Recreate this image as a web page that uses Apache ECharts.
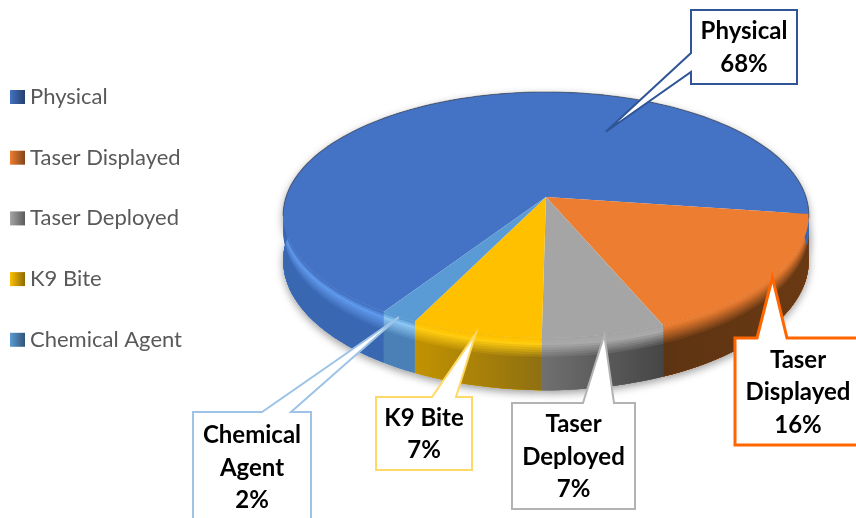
<!DOCTYPE html>
<html>
<head>
<meta charset="utf-8">
<style>
html, body { margin: 0; padding: 0; background: #fff; }
#chart { width: 856px; height: 518px; }
</style>
<script src="https://cdn.jsdelivr.net/npm/echarts@6/dist/echarts.min.js"></script>
</head>
<body>
<div id="chart"></div>
<script>
const categories = ['Physical', 'Taser Displayed', 'Taser Deployed', 'K9 Bite', 'Chemical Agent']
// printed labels are rounded, the slice widths read slightly finer
const shares = [68, 16.4, 6.6, 7, 2]

// pie geometry, the perspective of a tilted disc
const centerX = 546
const centerY = 197
const radiusX = 260
const radiusY = 120.4
const perspective = 0.1464
const depth = 44.5
const firstAngle = 123.2

const sliceColors = [
    { top: '#4472c4', rim: '#5f99ec', left: '#3a67b2', right: '#3a67b2' },
    { top: '#ed7d31', rim: '#cf6e2a', left: '#5d3412', right: '#6a3913' },
    { top: '#a5a5a5', rim: '#a9a9a9', left: '#707070', right: '#464646' },
    { top: '#ffc000', rim: '#ffcc10', left: '#c29200', right: '#8f7012' },
    { top: '#5b9bd5', rim: '#8cc6f2', left: '#4a80b6', right: '#4a80b6' }
]

const callouts = [
    { box: [691, 10, 106, 74], side: 'left', base: [53, 72], color: '#2f5597', width: 2, tipAngle: 293, tipRadius: 0.64 },
    { box: [735, 338, 126, 107], side: 'top', base: [757, 787], color: '#ff6600', width: 3, wrap: true },
    { box: [512, 403, 123, 106], side: 'top', base: [583, 614], color: '#b3b3b3', width: 2, wrap: true },
    { box: [376, 397, 96, 73], side: 'top', base: [432, 456], color: '#ffd966', width: 2 },
    { box: [193, 412, 118, 110], side: 'top', base: [262, 291], color: '#9dc3e6', width: 2, wrap: true }
]

const total = shares.reduce((a, b) => a + b, 0)

const project = (angle, ratio, drop) => {
    const rad = angle * Math.PI / 180
    const u = Math.cos(rad) * ratio
    const v = Math.sin(rad) * ratio
    const w = 1 - perspective * v
    return [centerX + radiusX * u / w, centerY + (radiusY * v + drop) / w]
}

const arcPoints = (from, to, drop) => {
    const points = []
    const steps = Math.max(2, Math.ceil((to - from) / 2))
    for (let i = 0; i <= steps; i++) {
        points.push(project(from + (to - from) * i / steps, 1, drop))
    }
    return points
}

const mixColor = (a, b, t) => {
    const ca = [1, 3, 5].map(i => parseInt(a.substr(i, 2), 16))
    const cb = [1, 3, 5].map(i => parseInt(b.substr(i, 2), 16))
    const c = ca.map((v, i) => Math.round(v + (cb[i] - v) * t))
    return `rgb(${c[0]},${c[1]},${c[2]})`
}

const horizontal = (left, right) => ({
    type: 'linear', x: 0, y: 0, x2: 1, y2: 0,
    colorStops: [{ offset: 0, color: left }, { offset: 1, color: right }]
})

const calloutShape = (item) => {
    const [x, y, w, h] = item.box
    if (item.side === 'left') {
        return [[x, y], [x + w, y], [x + w, y + h], [x, y + h], [x, item.base[1]], item.tip, [x, item.base[0]]]
    }
    return [[x, y], [item.base[0], y], item.tip, [item.base[1], y], [x + w, y], [x + w, y + h], [x, y + h]]
}

let running = firstAngle
const sliceAngles = shares.map(share => {
    const from = running
    running += share / total * 360
    return [from, running]
})

const drawSlice = (index, value) => {
    const [from, to] = sliceAngles[index]
    const colors = sliceColors[index]
    const children = []

    const wall = (startDrop, fill, z2, extra) => {
        const upper = arcPoints(from, to, startDrop)
        const lower = arcPoints(from, to, depth).reverse()
        children.push({
            type: 'polygon',
            z2: z2,
            shape: { points: upper.concat(lower) },
            style: Object.assign({ fill: fill }, extra || {})
        })
    }

    // soft shadow under the wall
    wall(0, colors.left, 1, { shadowBlur: 9, shadowColor: 'rgba(0,0,0,0.4)', shadowOffsetY: 3 })

    // the bevel fades from the rim colour into the wall colour
    const bands = [0, 2, 4, 6, 8, 10, 12, 14, 16]
    bands.forEach((drop, i) => {
        let fill
        if (drop <= 4) {
            fill = horizontal(mixColor(colors.top, colors.rim, drop / 4), mixColor(colors.top, colors.rim, drop / 4))
        } else {
            const t = (drop - 4) / 12
            fill = horizontal(mixColor(colors.rim, colors.left, t), mixColor(colors.rim, colors.right, t))
        }
        wall(drop, fill, 2 + i)
    })

    const center = project(0, 0, 0)
    const face = [center].concat(arcPoints(from, to, 0))
    children.push({
        type: 'polygon',
        z2: 20,
        shape: { points: face },
        style: { fill: colors.top }
    })

    // darker edge on the far side of the disc
    const backEdge = arcPoints(from, to, 0).filter(p => p[1] < centerY + 22)
    if (backEdge.length > 1) {
        children.push({
            type: 'polyline',
            z2: 21,
            shape: { points: backEdge },
            style: { fill: null, stroke: 'rgba(70,70,70,0.55)', lineWidth: 1.2 }
        })
    }

    const item = callouts[index]
    const mid = (from + to) / 2
    const tip = project(item.tipAngle === undefined ? mid : item.tipAngle, item.tipRadius || 1, 0)
    const [bx, by, bw, bh] = item.box
    children.push({
        type: 'polygon',
        z2: 30,
        shape: { points: calloutShape(Object.assign({ tip: tip }, item)) },
        style: { fill: '#fff', stroke: item.color, lineWidth: item.width, lineJoin: 'miter' }
    })
    const name = categories[index]
    children.push({
        type: 'text',
        z2: 31,
        x: bx + bw / 2,
        y: by + bh / 2 + 1,
        style: {
            text: (item.wrap ? name.replace(' ', '\n') : name) + '\n' + Math.round(value) + '%',
            fill: '#000',
            font: 'bold 24px Lato',
            lineHeight: 32.5,
            align: 'center',
            verticalAlign: 'middle'
        }
    })

    return { type: 'group', children: children }
}

const chart = echarts.init(document.getElementById('chart'))

chart.setOption({
    animation: false,
    legend: {
        orient: 'vertical',
        left: 10,
        top: 86,
        padding: 0,
        itemWidth: 15,
        itemHeight: 14,
        itemGap: 38.7,
        selectedMode: false,
        textStyle: { fontFamily: 'Lato', fontSize: 22, color: '#595959' },
        data: categories.map((name, i) => ({
            name: name,
            icon: 'rect',
            itemStyle: { color: horizontal(sliceColors[i].top, mixColor(sliceColors[i].top, '#000000', 0.45)) }
        }))
    },
    series: categories.map((name, i) => ({
        type: 'custom',
        name: name,
        coordinateSystem: 'none',
        itemStyle: { color: sliceColors[i].top },
        data: [[shares[i]]],
        renderItem: (params, api) => drawSlice(i, api.value(0))
    }))
})
</script>
</body>
</html>
